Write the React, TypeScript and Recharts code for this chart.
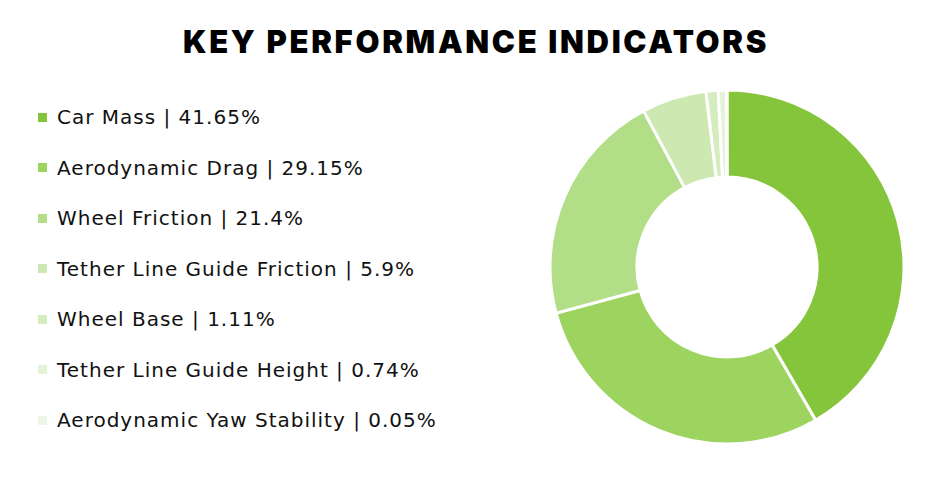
import React from 'react';
import { Cell, Legend, Pie, PieChart } from 'recharts';

const labels = [
  'Car Mass',
  'Aerodynamic Drag',
  'Wheel Friction',
  'Tether Line Guide Friction',
  'Wheel Base',
  'Tether Line Guide Height',
  'Aerodynamic Yaw Stability',
];
const shares = [41.65, 29.15, 21.4, 5.9, 1.11, 0.74, 0.05];
const colors = ['#85c53b', '#9dd35f', '#b3de88', '#cde8b0', '#d5ecbe', '#e4f2d7', '#edf6e4'];

const data = labels.map((name, i) => ({ name, value: shares[i] }));

const LegendList = () => (
  <div>
    {data.map((d, i) => (
      <div
        key={d.name}
        style={{
          display: 'flex',
          alignItems: 'center',
          height: 50.5,
          fontSize: 20,
          letterSpacing: 1,
          color: '#111',
        }}
      >
        <span style={{ width: 9, height: 9, background: colors[i], marginRight: 10, display: 'inline-block' }} />
        {d.name} | {d.value}%
      </div>
    ))}
  </div>
);

const App = () => {
  return (
    <div style={{ position: 'relative', width: 930, height: 463, fontFamily: '"DejaVu Sans", sans-serif' }}>
      <div
        style={{
          position: 'absolute',
          top: 15,
          left: 0,
          width: 936,
          textAlign: 'center',
          fontSize: 31,
          fontWeight: 900,
          letterSpacing: 2.7,
          fontFamily: 'Inter, sans-serif',
          color: '#000',
        }}
      >
        KEY PERFORMANCE INDICATORS
      </div>
      <PieChart width={930} height={463}>
        <Pie
          data={data}
          dataKey='value'
          nameKey='name'
          cx={714}
          cy={254}
          innerRadius={90}
          outerRadius={177}
          startAngle={90}
          endAngle={-270}
          stroke='#fff'
          strokeWidth={3}
          isAnimationActive={false}
        >
          {data.map((d, i) => (
            <Cell key={d.name} fill={colors[i]} />
          ))}
        </Pie>
        <Legend
          layout='vertical'
          content={() => <LegendList />}
          wrapperStyle={{ left: 30, top: 84, width: 480 }}
        />
      </PieChart>
    </div>
  );
};

export default App;
